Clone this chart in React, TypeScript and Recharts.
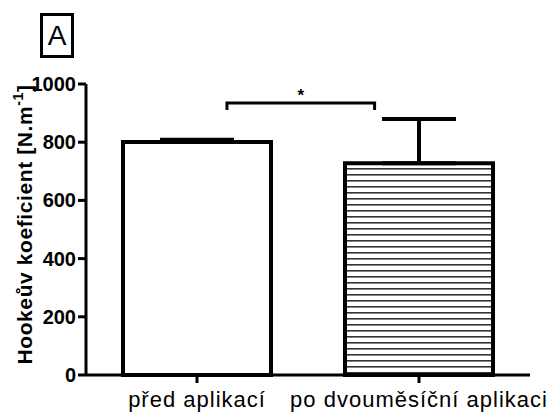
import { BarChart, Bar, XAxis, YAxis, ErrorBar, ReferenceLine, Cell } from 'recharts';

const categories = ['před aplikací', 'po dvouměsíční aplikaci'];
const means = [801, 728];
const sem = [7, 152];
const yTicks = [0, 200, 400, 600, 800, 1000];
const sigLevel = 935;
const sigMark = '*';

const data = categories.map((name, i) => ({ name, value: means[i], err: [0, sem[i]] }));

const FONT = '"Liberation Sans", Arial, Helvetica, sans-serif';

// bracket between the two bars, drawn inside the category centres
function Bracket(props: any) {
  const { x1, x2, y1 } = props;
  const span = x2 - x1;
  const left = x1 + span * 0.135;
  const right = x2 - span * 0.2;
  return (
    <g>
      <path
        d={`M${left},${y1 + 7} L${left},${y1} L${right},${y1} L${right},${y1 + 7}`}
        fill="none"
        stroke="#000"
        strokeWidth={3}
      />
      <text x={(left + right) / 2} y={y1 - 2} textAnchor="middle" fontSize={17} fontWeight="bold" fill="#000" fontFamily={FONT}>
        {sigMark}
      </text>
    </g>
  );
}

function YTick(props: any) {
  const { x, y, payload } = props;
  return (
    <text x={x} y={y} dy={7} textAnchor="end" fontSize={20} fontWeight={700} fill="#000" fontFamily={FONT}>
      {payload.value}
    </text>
  );
}

function YLabel(props: any) {
  const vb = props.viewBox || { x: 0, y: 0, height: 0 };
  const cx = vb.x + 32;
  const cy = vb.y + vb.height / 2 - 5;
  return (
    <text
      x={cx}
      y={cy}
      transform={`rotate(-90, ${cx}, ${cy})`}
      textAnchor="middle"
      fontSize={21}
      fontWeight="bold"
      letterSpacing={0.6}
      fill="#000"
      fontFamily={FONT}
    >
      Hookeův koeficient [N.m
      <tspan fontSize={14} dy={-9}>-1</tspan>
      <tspan dy={9}>]</tspan>
    </text>
  );
}

export default function App() {
  return (
    <div style={{ position: 'absolute', left: 0, top: 0, width: 559, height: 416, background: '#fff', fontFamily: FONT }}>
      <div
        style={{
          position: 'absolute',
          left: 40,
          top: 13,
          width: 28,
          height: 39,
          border: '3px solid #000',
          fontSize: 28,
          lineHeight: '39px',
          textAlign: 'center',
          color: '#000',
        }}
      >
        A
      </div>
      <BarChart width={559} height={416} data={data} margin={{ top: 84, right: 29, left: 0, bottom: 0 }}>
        <defs>
          <pattern id="stripes" width={8} height={6} patternUnits="userSpaceOnUse">
            <rect width={8} height={6} fill="#fff" />
            <rect y={0} width={8} height={1.6} fill="#333" />
          </pattern>
        </defs>
        <XAxis
          dataKey="name"
          height={41}
          tickSize={8}
          tickMargin={8}
          axisLine={{ stroke: '#000', strokeWidth: 3 }}
          tickLine={{ stroke: '#000', strokeWidth: 3 }}
          tick={{ fill: '#000', fontSize: 22, letterSpacing: 1 }}
        />
        <YAxis
          width={86}
          domain={[0, 1000]}
          ticks={yTicks}
          interval={0}
          tickSize={8}
          tickMargin={2}
          axisLine={{ stroke: '#000', strokeWidth: 3 }}
          tickLine={{ stroke: '#000', strokeWidth: 3 }}
          tick={<YTick />}
          label={<YLabel />}
        />
        <Bar dataKey="value" barSize={148} stroke="#000" strokeWidth={4} isAnimationActive={false}>
          {data.map((d, i) => (
            <Cell key={d.name} fill={i === 0 ? '#fff' : 'url(#stripes)'} />
          ))}
          <ErrorBar dataKey="err" width={37} stroke="#000" strokeWidth={4} isAnimationActive={false} />
        </Bar>
        <ReferenceLine
          segment={[
            { x: categories[0], y: sigLevel },
            { x: categories[1], y: sigLevel },
          ]}
          ifOverflow="visible"
          shape={<Bracket />}
        />
      </BarChart>
    </div>
  );
}
